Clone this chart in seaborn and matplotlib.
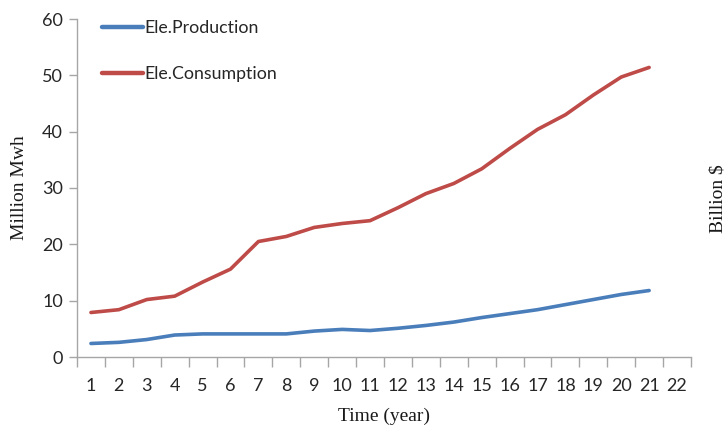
import matplotlib
matplotlib.use("Agg")
import matplotlib.pyplot as plt
import seaborn as sns
import pandas as pd
import numpy as np

years = list(range(1, 22))
production = [2.4, 2.6, 3.1, 3.9, 4.1, 4.1, 4.1, 4.1, 4.6, 4.9, 4.7,
              5.1, 5.6, 6.2, 7.0, 7.7, 8.4, 9.3, 10.2, 11.1, 11.8]
consumption = [7.9, 8.4, 10.2, 10.8, 13.3, 15.6, 20.5, 21.4, 23.0, 23.7, 24.2,
               26.5, 29.0, 30.8, 33.4, 37.0, 40.4, 43.0, 46.5, 49.7, 51.4]
series_names = ["Ele.Production", "Ele.Consumption"]
colors = ["#4A7EBB", "#BE4B48"]
x_tick_labels = [str(i) for i in range(1, 23)]
y_ticks = [0, 10, 20, 30, 40, 50, 60]

sns.set_style("white")
plt.rcParams["font.family"] = ["Lato", "DejaVu Sans"]

df = pd.DataFrame({
    "Year": years * 2,
    "Value": production + consumption,
    "Series": [series_names[0]] * len(years) + [series_names[1]] * len(years),
})

fig = plt.figure(figsize=(7.28, 4.25), dpi=100)
ax = fig.add_axes([77 / 728, 1 - 357 / 425, (691 - 77) / 728, (357 - 19) / 425])

sns.lineplot(data=df, x="Year", y="Value", hue="Series", palette=colors,
             hue_order=series_names, linewidth=2.6, ax=ax, legend=False)

ax.set_xlim(0.5, 22.5)
ax.set_ylim(0, 60)
ax.set_yticks(y_ticks)
ax.set_yticklabels([str(v) for v in y_ticks], fontsize=13, color="#262626")
ax.set_xticks(range(1, 23))
ax.set_xticklabels(x_tick_labels, fontsize=13, color="#262626")
ax.set_xticks(np.arange(0.5, 23.0, 1.0), minor=True)
ax.tick_params(axis="x", which="major", length=0, pad=15)
ax.tick_params(axis="x", which="minor", length=7, width=1, color="#A6A6A6",
               direction="out", bottom=True)
ax.tick_params(axis="y", length=6, width=1, color="#A6A6A6", direction="out",
               left=True, pad=4)

for side in ("top", "right"):
    ax.spines[side].set_visible(False)
for side in ("left", "bottom"):
    ax.spines[side].set_color("#A6A6A6")
    ax.spines[side].set_linewidth(1)

ax.set_xlabel("Time (year)", fontfamily="Liberation Serif", fontsize=14,
              color="#1a1a1a", labelpad=10)
ax.set_ylabel("Million Mwh", fontfamily="Liberation Serif", fontsize=14,
              color="#1a1a1a", labelpad=10)
fig.text(718 / 728, 1 - 199 / 425, "Billion $", rotation=90,
         fontfamily="Liberation Serif", fontsize=14, color="#1a1a1a",
         ha="center", va="center")

handles = [plt.Line2D([], [], color=c, linewidth=3.2) for c in colors]
ax.legend(handles, series_names, loc="upper left", bbox_to_anchor=(0.015, 1.045),
          frameon=False, fontsize=12.8, handlelength=2.3, handletextpad=0.08,
          labelspacing=1.7)

fig.savefig("out.png", dpi=100)
